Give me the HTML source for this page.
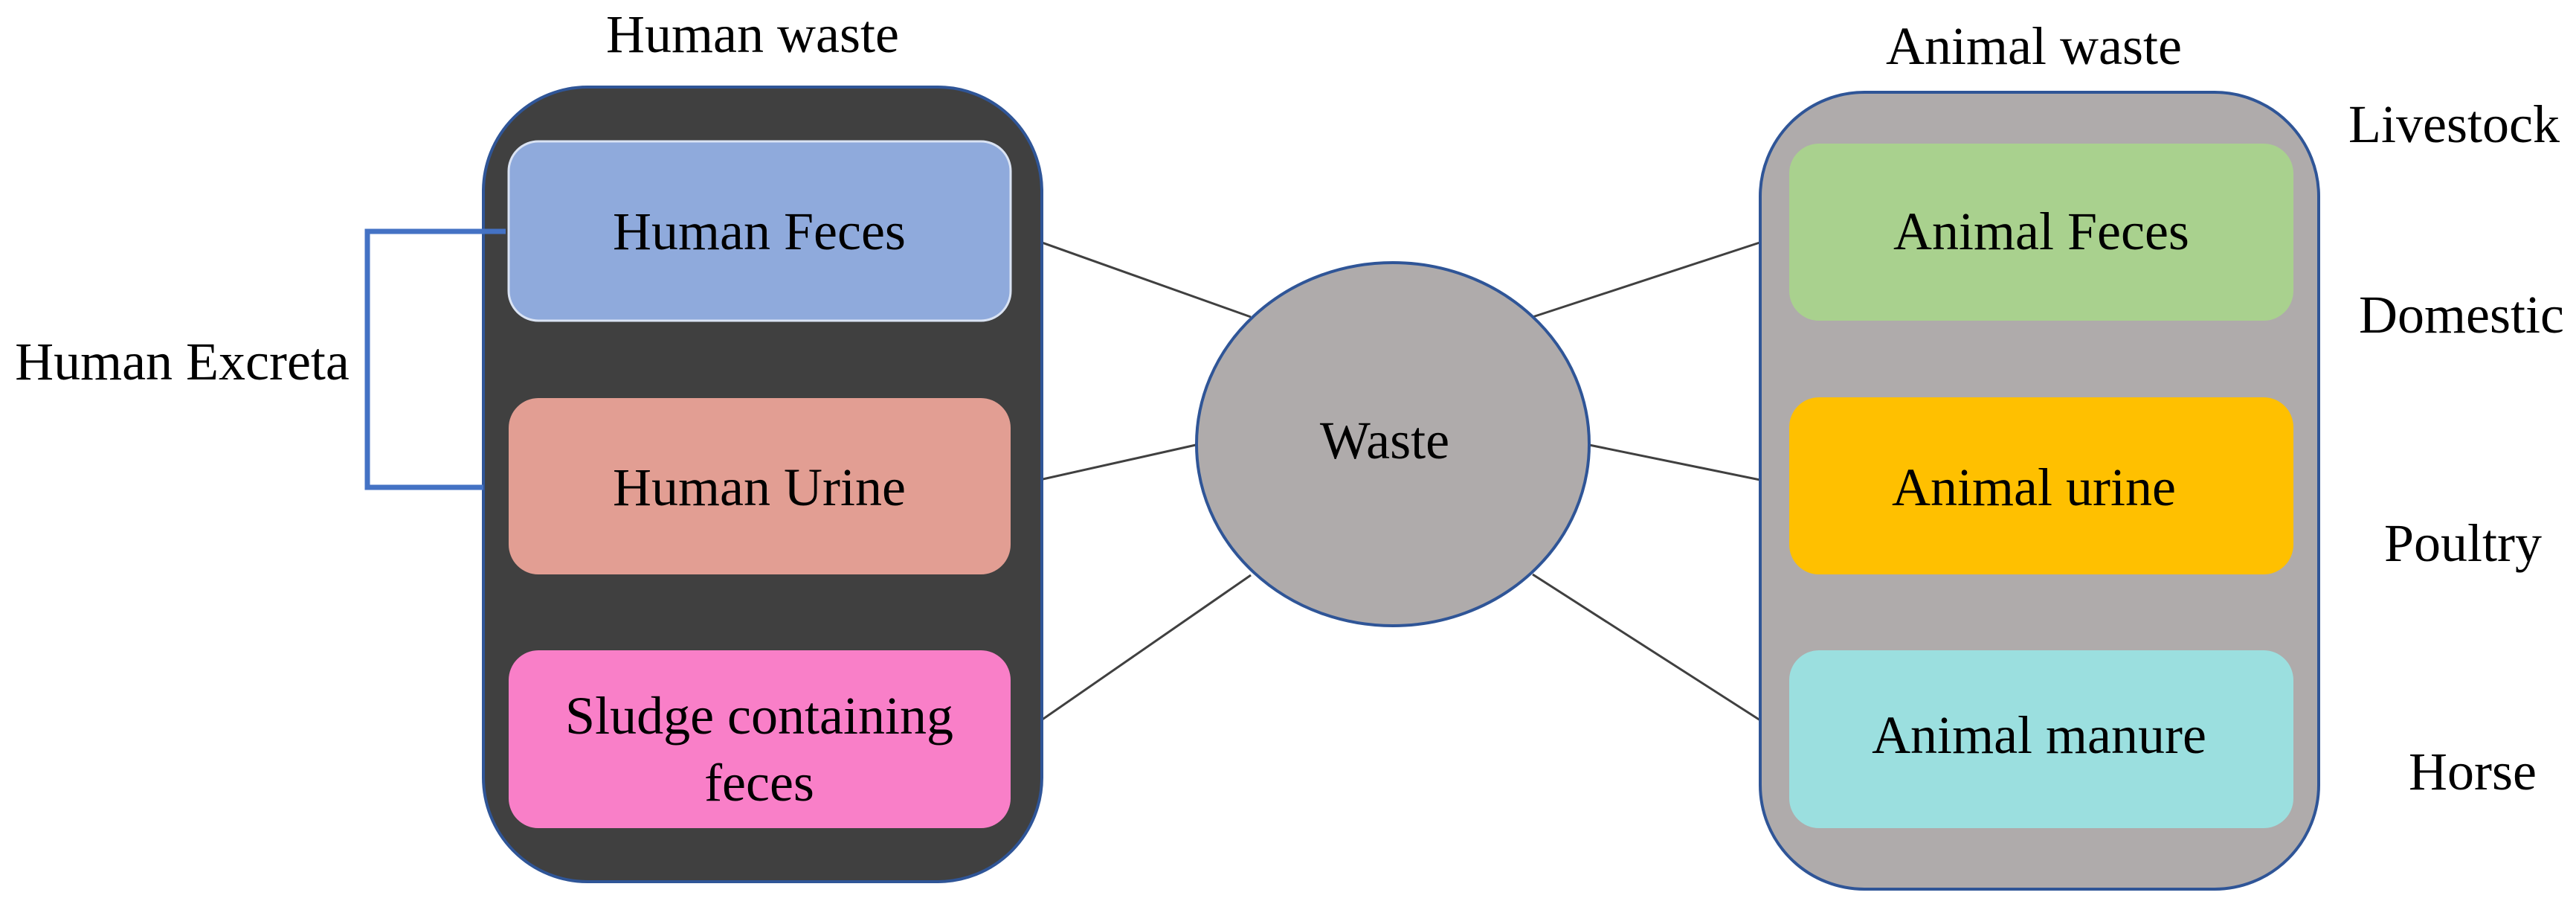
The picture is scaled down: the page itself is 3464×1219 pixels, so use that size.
<!DOCTYPE html>
<html><head><meta charset="utf-8"><style>
html,body{margin:0;padding:0;background:#fff;}
svg{display:block;}
text{font-family:"Liberation Serif",serif;fill:#000;}
</style></head><body>
<svg width="3464" height="1219" viewBox="0 0 3464 1219" xmlns="http://www.w3.org/2000/svg">
<rect width="3464" height="1219" fill="#fff"/>
<!-- connectors -->
<g stroke="#404040" stroke-width="3">
<line x1="1359" y1="311" x2="1682" y2="426"/>
<line x1="1362" y1="653" x2="1608" y2="598"/>
<line x1="1364" y1="993" x2="1682" y2="773"/>
<line x1="2061" y1="426" x2="2406" y2="313"/>
<line x1="2137" y1="598" x2="2406" y2="653"/>
<line x1="2061" y1="772" x2="2406" y2="993"/>
</g>
<!-- left container -->
<rect x="650" y="117" width="751" height="1068" rx="140" ry="140" fill="#404040" stroke="#2f5597" stroke-width="4"/>
<rect x="684" y="190" width="675" height="241" rx="40" fill="#8faadc" stroke="#dae3f3" stroke-width="3"/>
<rect x="684" y="535" width="675" height="237" rx="40" fill="#e29e93"/>
<rect x="684" y="874" width="675" height="239" rx="40" fill="#f97fc8"/>
<!-- bracket -->
<polyline points="680,311 494,311 494,655 650,655" fill="none" stroke="#4472c4" stroke-width="7"/>
<!-- right container -->
<rect x="2367" y="124" width="751" height="1071" rx="140" ry="140" fill="#afabab" stroke="#2f5597" stroke-width="4"/>
<rect x="2406" y="193" width="678" height="238" rx="40" fill="#a9d18e"/>
<rect x="2406" y="534" width="678" height="238" rx="40" fill="#ffc000"/>
<rect x="2406" y="874" width="678" height="239" rx="40" fill="#9bdfdf"/>
<!-- circle -->
<ellipse cx="1873" cy="597" rx="264" ry="244" fill="#afabab" stroke="#2f5597" stroke-width="4"/>
<!-- text -->
<g font-size="72" text-anchor="middle" dominant-baseline="central">
<text x="1012" y="46">Human waste</text>
<text x="2735" y="62">Animal waste</text>
<text x="1021" y="311">Human Feces</text>
<text x="1021" y="655">Human Urine</text>
<text x="1021" y="962">Sludge containing</text>
<text x="1021" y="1052">feces</text>
<text x="245" y="486">Human Excreta</text>
<text x="1862" y="592">Waste</text>
<text x="2745" y="311">Animal Feces</text>
<text x="2735" y="655">Animal urine</text>
<text x="2742" y="988">Animal manure</text>
<text x="3300" y="167">Livestock</text>
<text x="3310" y="423">Domestic</text>
<text x="3312" y="730">Poultry</text>
<text x="3325" y="1037">Horse</text>
</g>
</svg>
</body></html>
